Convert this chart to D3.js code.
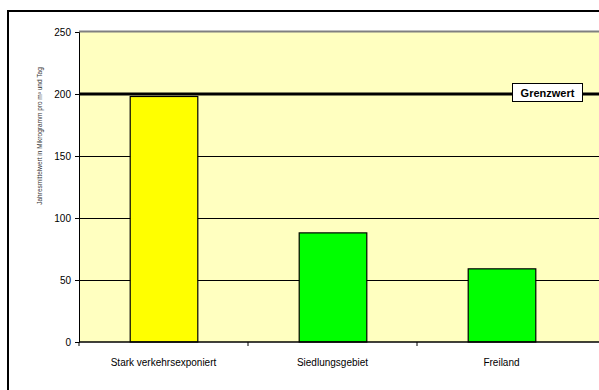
<!DOCTYPE html>
<html><head><meta charset="utf-8">
<script src="https://cdn.jsdelivr.net/npm/d3@7"></script>
<style>html,body{margin:0;background:#fff;overflow:hidden}svg{display:block}text{font-family:Arial,"Liberation Sans",sans-serif}</style>
</head><body>
<svg id="c" width="599" height="390"></svg>
<script>
const categories = ["Stark verkehrsexponiert", "Siedlungsgebiet", "Freiland"];
const values = [198, 88, 59];
const barColors = ["#FFFF00", "#00FF00", "#00FF00"];
const yTicks = [0, 50, 100, 150, 200, 250];
const limitValue = 200;
const limitLabel = "Grenzwert";
const yLabel = "Jahresmittelwert in Mikrogramm pro m³ und Tag";

(function () {
const svg = d3.select("#c");
const W = 599;
// outer frame (only left and top edges are inside the picture)
svg.append("path").attr("d", `M8,400 L8,11 L${W},11`).attr("fill", "none")
  .attr("stroke", "#000").attr("stroke-width", 2);

const pLeft = 79, pRight = 586, pTop = 32, pBottom = 342;
const x = d3.scaleBand().domain(categories).range([pLeft, pRight]).paddingInner(0.6).paddingOuter(0.3);
const xb = d3.scaleBand().domain(categories).range([pLeft, pRight]);
const y = d3.scaleLinear().domain([0, 250]).range([pBottom, pTop]);

// plot background
svg.append("rect").attr("x", pLeft).attr("y", pTop).attr("width", W - pLeft).attr("height", pBottom - pTop)
  .attr("fill", "#FFFFC0");
svg.append("line").attr("x1", pLeft).attr("x2", W).attr("y1", y(250) - 0.5).attr("y2", y(250) - 0.5)
  .attr("stroke", "#808080").attr("stroke-width", 2);

// gridlines
svg.append("g").selectAll("line").data(yTicks.filter(d => d > 0 && d < 250 && d !== limitValue)).join("line")
  .attr("x1", pLeft).attr("x2", W).attr("y1", d => Math.round(y(d)) + 0.5).attr("y2", d => Math.round(y(d)) + 0.5)
  .attr("stroke", "#000").attr("stroke-width", 1);

// bars
svg.append("g").selectAll("rect").data(values).join("rect")
  .attr("x", (d, i) => x(categories[i]) + 0.5)
  .attr("y", d => y(d))
  .attr("width", x.bandwidth())
  .attr("height", d => pBottom - y(d))
  .attr("fill", (d, i) => barColors[i])
  .attr("stroke", "#000").attr("stroke-width", 1.2);

// limit line
svg.append("line").attr("x1", pLeft).attr("x2", W).attr("y1", y(limitValue)).attr("y2", y(limitValue))
  .attr("stroke", "#000").attr("stroke-width", 3);
const lg = svg.append("g");
lg.append("rect").attr("x", 512.5).attr("y", 83.5).attr("width", 70).attr("height", 18)
  .attr("fill", "#fff").attr("stroke", "#000").attr("stroke-width", 1);
lg.append("text").attr("x", 547.5).attr("y", 96.5).attr("text-anchor", "middle")
  .attr("font-size", 11).attr("font-weight", "bold").text(limitLabel);

// y axis
const ya = svg.append("g").attr("transform", `translate(${pLeft},0)`)
  .call(d3.axisLeft(y).tickValues(yTicks).tickSize(4).tickPadding(4));
ya.select(".domain").attr("stroke", "#000");
ya.selectAll("text").attr("font-size", 10).attr("fill", "#000").attr("font-family", "Arial,'Liberation Sans',sans-serif");

// x axis
const xa = svg.append("g").attr("transform", `translate(0,${pBottom})`);
xa.append("line").attr("x1", pLeft).attr("x2", W).attr("y1", 0).attr("y2", 0).attr("stroke", "#000").attr("stroke-width", 1.5);
xa.selectAll("line.t").data(categories).join("line").attr("class", "t")
  .attr("x1", d => xb(d)).attr("x2", d => xb(d)).attr("y1", 0).attr("y2", 4).attr("stroke", "#000");
xa.selectAll("text").data(categories).join("text")
  .attr("x", d => xb(d) + xb.bandwidth() / 2).attr("y", 24).attr("text-anchor", "middle")
  .attr("font-size", 10).attr("fill", "#000").text(d => d);

// y label
svg.append("text").attr("transform", `translate(42,${(70 + 202) / 2}) rotate(-90)`)
  .attr("text-anchor", "middle").attr("font-size", 6.5).attr("fill", "#333")
  .text(yLabel);
})();
</script>
</body></html>
